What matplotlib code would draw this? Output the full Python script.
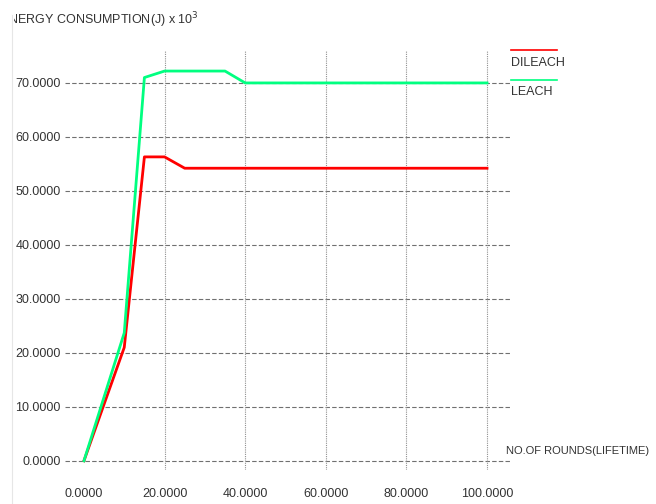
import matplotlib
matplotlib.use("Agg")
import matplotlib.pyplot as plt
from matplotlib.lines import Line2D
from matplotlib.transforms import Bbox, TransformedBbox

# rounds (x) and energy consumption (x 10^3)
rounds_leach = [0, 10, 15, 20, 35, 40, 100]
energy_leach = [0, 23.7, 71.0, 72.2, 72.2, 70.0, 70.0]

rounds_dileach = [0, 10, 15, 20, 25, 100]
energy_dileach = [0, 21.0, 56.3, 56.3, 54.2, 54.2]

xticks = [0, 20, 40, 60, 80, 100]
yticks = [0, 10, 20, 30, 40, 50, 60, 70]

plt.rcParams['font.family'] = ['Liberation Sans', 'DejaVu Sans']
FS = 9

W, H = 656, 504
fig = plt.figure(figsize=(W / 100, H / 100), dpi=100)
ax = fig.add_axes([65 / W, 1 - 470 / H, (512 - 65) / W, (470 - 50) / H])

ax.set_xlim(-4.7, 106.2)
ax.set_ylim(-1.7, 76.1)

# grid: dashed horizontal, dotted vertical (no line at x=0)
for y in yticks:
    ax.axhline(y, color='#707070', lw=0.8, ls=(0, (4, 2)), zorder=1)
for x in xticks[1:]:
    ax.axvline(x, color='#909090', lw=0.8, ls=(0, (1, 1)), zorder=1)

ax.plot(rounds_dileach, energy_dileach, color='#ff0000', lw=2.0, zorder=3)
ax.plot(rounds_leach, energy_leach, color='#00ff80', lw=2.0, zorder=3)

for s in ax.spines.values():
    s.set_visible(False)
ax.tick_params(length=0, labelsize=FS, colors='#333333')
ax.tick_params(axis='x', pad=13)
ax.tick_params(axis='y', pad=3)
ax.set_xticks(xticks)
ax.set_yticks(yticks)
ax.set_xticklabels([f"{v:.4f}" for v in xticks])
ax.set_yticklabels([f"{v:.4f}" for v in yticks])

# faint left border line
fig.add_artist(Line2D([12 / W, 12 / W], [0, 1 - 15 / H], color='#e6e6e6', lw=0.8))

title = fig.text(0 / W, 1 - 20 / H, "ENERGY CONSUMPTION(J) x 10$^3$", fontsize=FS,
                 color='#333333', va='center', ha='left')
title.set_clip_box(TransformedBbox(Bbox([[14 / W, 0], [1, 1]]), fig.transFigure))
title.set_clip_on(True)

fig.text(506 / W, 1 - 451 / H, "NO.OF ROUNDS(LIFETIME)", fontsize=8,
         color='#333333', va='center', ha='left')

# legend
fig.add_artist(Line2D([511 / W, 557 / W], [1 - 50 / H, 1 - 50 / H], color='#ff0000', lw=1.2))
fig.text(511 / W, 1 - 63 / H, "DILEACH", fontsize=FS, color='#333333', va='center', ha='left')
fig.add_artist(Line2D([511 / W, 557 / W], [1 - 80 / H, 1 - 80 / H], color='#00ff80', lw=1.2))
fig.text(511 / W, 1 - 92 / H, "LEACH", fontsize=FS, color='#333333', va='center', ha='left')

fig.savefig("out.png", dpi=100)
